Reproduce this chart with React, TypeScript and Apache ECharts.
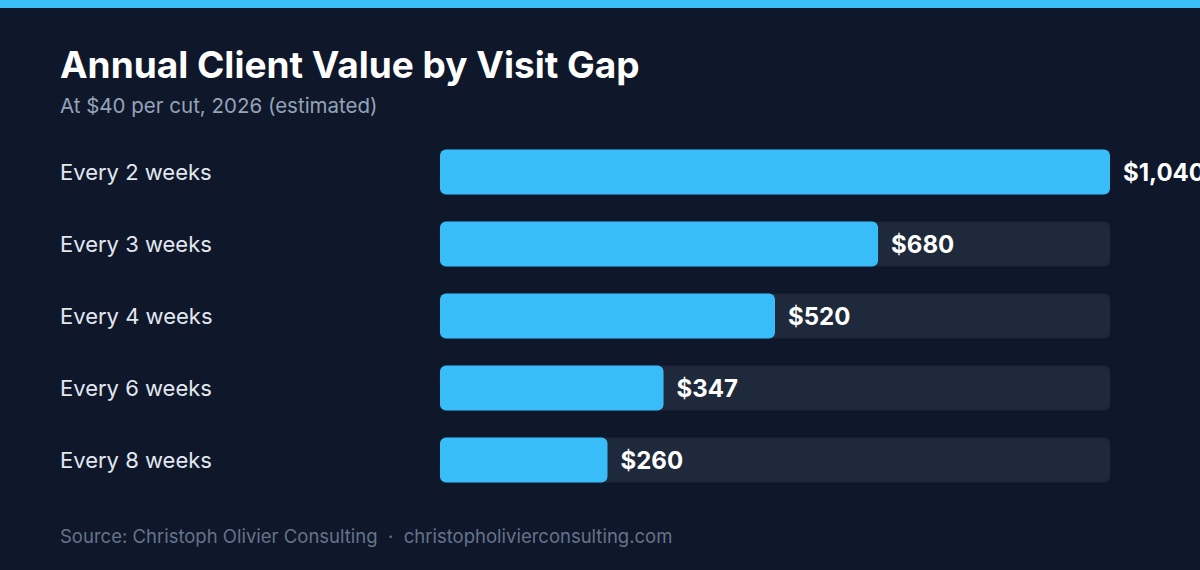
import React, { useEffect, useRef } from "react";
import * as echarts from "echarts";

const categories = ["Every 2 weeks", "Every 3 weeks", "Every 4 weeks", "Every 6 weeks", "Every 8 weeks"];
const values = [1040, 680, 520, 347, 260];

const FONT = "Inter, 'Noto Sans', sans-serif";

const App: React.FC = () => {
  const chartRef = useRef<HTMLDivElement>(null);

  useEffect(() => {
    if (!chartRef.current) return;
    const chart = echarts.init(chartRef.current, undefined, { renderer: "svg" });

    const option = {
      animation: false,
      backgroundColor: "#0f172a",
      textStyle: { fontFamily: FONT },
      title: [
        {
          text: "Annual Client Value by Visit Gap",
          left: 60,
          top: 46,
          padding: 0,
          textStyle: { color: "#ffffff", fontSize: 37, fontWeight: "bold", fontFamily: FONT },
        },
        {
          text: "At $40 per cut, 2026 (estimated)",
          left: 60,
          top: 95,
          padding: 0,
          textStyle: { color: "#94a3b8", fontSize: 20.5, fontWeight: "normal", fontFamily: FONT },
        },
        {
          text: "Source: Christoph Olivier Consulting  ·  christopholivierconsulting.com",
          left: 60,
          top: 526,
          padding: 0,
          textStyle: { color: "#64748b", fontSize: 18.5, fontWeight: "normal", fontFamily: FONT },
        },
      ],
      graphic: [
        {
          type: "rect",
          left: 0,
          top: 0,
          shape: { width: 1200, height: 8 },
          style: { fill: "#38bdf8" },
        },
      ],
      grid: { left: 440, right: 90, top: 136, bottom: 74, containLabel: false },
      xAxis: {
        type: "value",
        min: 0,
        max: 1040,
        show: false,
      },
      yAxis: {
        type: "category",
        data: categories,
        inverse: true,
        axisLine: { show: false },
        axisTick: { show: false },
        axisLabel: {
          align: "left",
          margin: 380,
          color: "#e2e8f0",
          fontSize: 22,
          fontFamily: FONT,
        },
      },
      series: [
        {
          type: "bar",
          data: values,
          barWidth: 45,
          showBackground: true,
          backgroundStyle: { color: "#1e293b", borderRadius: 6 },
          itemStyle: { color: "#38bdf8", borderRadius: 6 },
          label: {
            show: true,
            position: "right",
            distance: 13,
            color: "#ffffff",
            fontSize: 24,
            fontWeight: "bold",
            fontFamily: FONT,
            formatter: (p: any) => "$" + Number(p.value).toLocaleString("en-US"),
          },
        },
      ],
    };

    chart.setOption(option as any);

    const handleResize = () => chart.resize();
    window.addEventListener("resize", handleResize);
    return () => {
      window.removeEventListener("resize", handleResize);
      chart.dispose();
    };
  }, []);

  return (
    <div
      ref={chartRef}
      style={{ position: "fixed", left: 0, top: 0, width: "1200px", height: "570px" }}
    />
  );
};

export default App;
